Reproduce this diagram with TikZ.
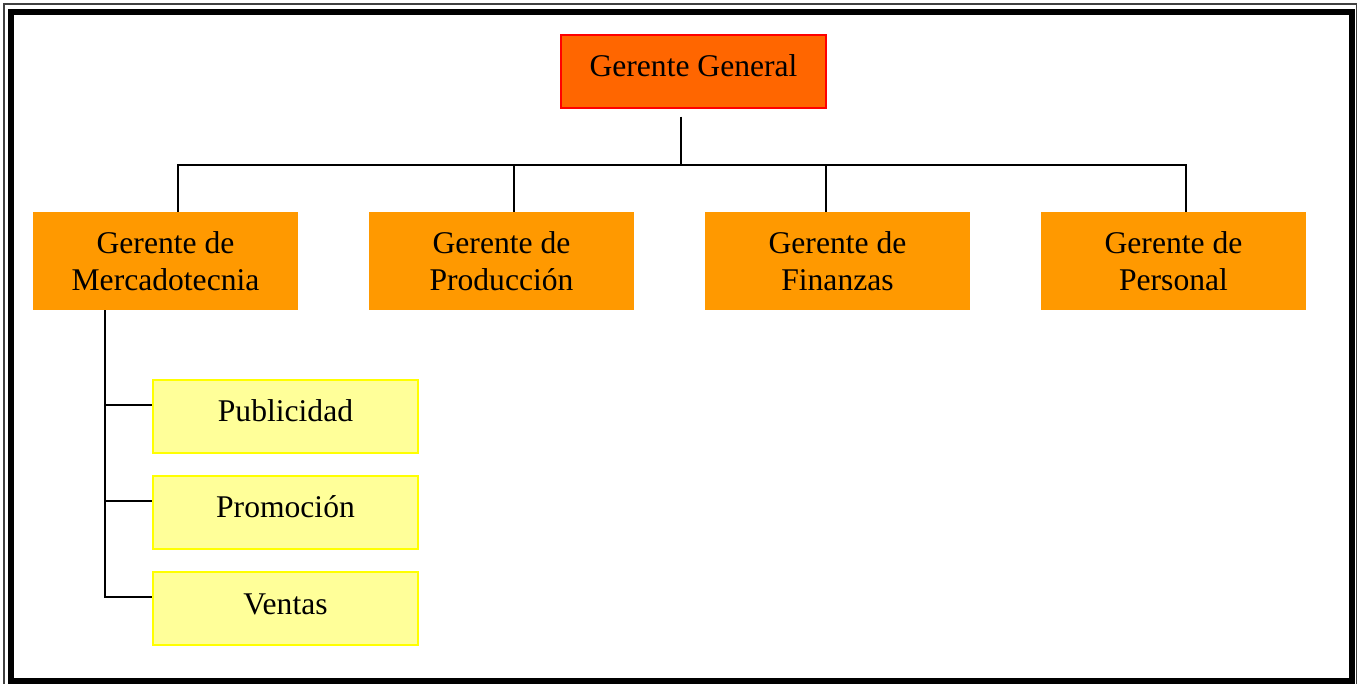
\documentclass[tikz,border=0pt]{standalone}
\usepackage{fontspec}
\setmainfont{Liberation Serif}
\definecolor{ggfill}{HTML}{FF6600}
\definecolor{ggline}{HTML}{FF0000}
\definecolor{l2fill}{HTML}{FF9900}
\definecolor{l3fill}{HTML}{FFFF99}
\definecolor{l3line}{HTML}{FFFF00}
\tikzset{
  box/.style={minimum width=265pt, inner sep=0pt, align=center, text=black,
    font=\fontsize{31.6}{37.5}\selectfont},
  raised/.style={text height=22pt, text depth=11pt},
  topbox/.style={box, raised, fill=ggfill, draw=ggline, line width=1.2pt, minimum height=73pt},
  midbox/.style={box, fill=l2fill, draw=none, minimum height=98pt},
  subbox/.style={box, raised, fill=l3fill, draw=l3line, line width=1.2pt, minimum height=73pt},
  link/.style={draw=black, line width=1.9pt}
}
\begin{document}
\begin{tikzpicture}[x=1pt,y=-1pt]
\useasboundingbox (0,0) rectangle (1358,684);
% frame
\draw[line width=1.4pt, black!75] (4,4) rectangle (1356.5,689);
\draw[line width=6pt, black] (11,12) rectangle (1352,681);
% nodes
\node[topbox] (gg) at (693.5,71.5) {Gerente General};
\node[midbox] (merc) at (165.5,261) {Gerente de\\Mercadotecnia};
\node[midbox] (prod) at (501.5,261) {Gerente de\\Producción};
\node[midbox] (fin) at (837.5,261) {Gerente de\\Finanzas};
\node[midbox] (pers) at (1173.5,261) {Gerente de\\Personal};
\node[subbox] (pub) at (285.5,416.5) {Publicidad};
\node[subbox] (prom) at (285.5,512.5) {Promoción};
\node[subbox] (ven) at (285.5,608.5) {Ventas};
% connector coordinates
\coordinate (gtop) at ([xshift=-12.5pt, yshift=-8pt]gg.south);
\coordinate (bus) at (681,165);
\coordinate (mtop) at ([xshift=12.5pt]merc.north);
\coordinate (ptop) at ([xshift=12.5pt]prod.north);
\coordinate (ftop) at ([xshift=-11.5pt]fin.north);
\coordinate (stop) at ([xshift=12.5pt]pers.north);
\coordinate (spine) at ([xshift=-60.5pt]merc.south);
\coordinate (pubw) at ([yshift=11.5pt]pub.west);
\coordinate (promw) at ([yshift=11.5pt]prom.west);
\coordinate (venw) at ([yshift=11.5pt]ven.west);
% connectors
\draw[link] (gtop) -- (bus);
\draw[link] (mtop) |- (bus) -| (stop);
\draw[link] (ptop) -- (ptop |- bus);
\draw[link] (ftop) -- (ftop |- bus);
\draw[link] (spine) |- (venw);
\draw[link] (spine |- pubw) -- (pubw);
\draw[link] (spine |- promw) -- (promw);
\end{tikzpicture}
\end{document}
